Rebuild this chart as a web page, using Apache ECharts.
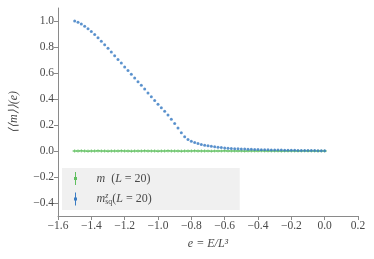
<!DOCTYPE html>
<html><head><meta charset="utf-8">
<script src="https://cdn.jsdelivr.net/npm/echarts@6/dist/echarts.min.js"></script>
<style>html,body{margin:0;padding:0;background:#fff}#c{width:374px;height:259px}</style>
</head><body><div id="c"></div>
<script>
const energies = [-1.50,-1.48,-1.46,-1.44,-1.42,-1.40,-1.38,-1.36,-1.34,-1.32,-1.30,-1.28,-1.26,-1.24,-1.22,-1.20,-1.18,-1.16,-1.14,-1.12,-1.10,-1.08,-1.06,-1.04,-1.02,-1.00,-0.98,-0.96,-0.94,-0.92,-0.90,-0.88,-0.86,-0.84,-0.82,-0.80,-0.78,-0.76,-0.74,-0.72,-0.70,-0.68,-0.66,-0.64,-0.62,-0.60,-0.58,-0.56,-0.54,-0.52,-0.50,-0.48,-0.46,-0.44,-0.42,-0.40,-0.38,-0.36,-0.34,-0.32,-0.30,-0.28,-0.26,-0.24,-0.22,-0.20,-0.18,-0.16,-0.14,-0.12,-0.10,-0.08,-0.06,-0.04,-0.02,0.00];
const mSq = [1.000,0.990,0.977,0.960,0.941,0.920,0.896,0.871,0.845,0.818,0.790,0.762,0.733,0.704,0.676,0.647,0.619,0.590,0.562,0.533,0.505,0.476,0.447,0.417,0.388,0.360,0.332,0.305,0.276,0.245,0.212,0.176,0.140,0.110,0.089,0.075,0.065,0.057,0.050,0.045,0.040,0.036,0.032,0.029,0.026,0.024,0.022,0.020,0.018,0.017,0.016,0.015,0.014,0.013,0.012,0.011,0.010,0.0095,0.009,0.0085,0.008,0.0075,0.007,0.0065,0.006,0.0055,0.005,0.0047,0.0044,0.004,0.0037,0.0034,0.0031,0.0028,0.0025,0.0022];
const mSqErr = [0.003,0.003,0.003,0.003,0.003,0.003,0.003,0.003,0.003,0.003,0.003,0.003,0.003,0.003,0.003,0.003,0.003,0.003,0.003,0.003,0.003,0.003,0.003,0.003,0.003,0.003,0.003,0.003,0.003,0.003,0.003,0.003,0.003,0.003,0.003,0.003,0.003,0.003,0.003,0.003,0.003,0.003,0.003,0.003,0.003,0.003,0.003,0.003,0.003,0.003,0.003,0.003,0.003,0.003,0.003,0.003,0.003,0.003,0.003,0.003,0.003,0.003,0.003,0.003,0.003,0.003,0.003,0.003,0.003,0.003,0.003,0.003,0.003,0.003,0.003,0.003];
const mVal = [0.000,0.000,0.001,0.000,-0.001,0.000,0.000,0.001,0.000,0.000,-0.001,0.000,0.000,0.000,0.001,0.000,0.000,-0.001,0.000,0.000,0.000,0.001,0.000,0.000,0.000,-0.001,0.000,0.000,0.001,0.000,0.000,0.000,-0.001,0.000,0.000,0.000,0.001,0.000,0.000,0.000,0.000,-0.001,0.000,0.000,0.000,0.001,0.000,0.000,0.000,0.000,0.000,-0.001,0.000,0.000,0.000,0.000,0.001,0.000,0.000,0.000,0.000,0.000,-0.001,0.000,0.000,0.000,0.000,0.000,0.000,0.001,0.000,0.000,0.000,0.000,0.000,0.000];
const mErr = [0.013,0.013,0.013,0.013,0.013,0.013,0.013,0.013,0.013,0.013,0.013,0.013,0.013,0.013,0.013,0.013,0.013,0.013,0.013,0.013,0.013,0.013,0.013,0.013,0.013,0.013,0.013,0.013,0.013,0.013,0.013,0.013,0.013,0.013,0.013,0.013,0.013,0.013,0.013,0.013,0.012,0.012,0.012,0.012,0.012,0.012,0.012,0.012,0.012,0.012,0.012,0.012,0.012,0.012,0.012,0.012,0.012,0.012,0.012,0.012,0.012,0.012,0.012,0.012,0.012,0.012,0.012,0.012,0.012,0.012,0.012,0.012,0.012,0.012,0.012,0.012];
const xTicks = [-1.6,-1.4,-1.2,-1.0,-0.8,-0.6,-0.4,-0.2,0.0,0.2];
const yTicks = [-0.4,-0.2,0.0,0.2,0.4,0.6,0.8,1.0];

const GREEN = '#5fbf5f', BLUE = '#3a7cc3', AXIS = '#8a8a8a', TXT = '#4a4a4a';
const FONT = 'Liberation Serif';
const fmt = v => v.toFixed(1).replace('-', '\u2212');

function errData(vals, errs){ return energies.map((e,i)=>[e, vals[i]-errs[i], vals[i]+errs[i]]); }
function errRender(color, op){
  return function(params, api){
    const a = api.coord([api.value(0), api.value(1)]);
    const b = api.coord([api.value(0), api.value(2)]);
    return {type:'line', shape:{x1:a[0],y1:a[1],x2:b[0],y2:b[1]}, style:{stroke:color, lineWidth:1, opacity:op}};
  };
}
const richText = {
  i:{fontFamily:FONT, fontStyle:'italic', fontSize:12, color:TXT, lineHeight:14},
  n:{fontFamily:FONT, fontSize:12, color:TXT, lineHeight:14},
  z:{fontFamily:FONT, fontStyle:'italic', fontSize:8, color:TXT, width:0, verticalAlign:'top', lineHeight:14},
  s:{fontFamily:FONT, fontSize:8, color:TXT, verticalAlign:'bottom', lineHeight:14}
};
const chart = echarts.init(document.getElementById('c'), null, {renderer:'canvas'});
chart.setOption({
  animation:false,
  backgroundColor:'#fff',
  grid:{left:57, right:16, top:8, bottom:43},
  xAxis:{type:'value', min:-1.6, max:0.2, interval:0.2,
    name:'e = E/L³', nameLocation:'middle', nameGap:22,
    nameTextStyle:{fontFamily:FONT, fontStyle:'italic', fontSize:12, color:TXT},
    axisLine:{onZero:false, lineStyle:{color:AXIS, width:1}},
    axisTick:{length:4, lineStyle:{color:AXIS}},
    axisLabel:{fontFamily:FONT, fontSize:11.5, color:TXT, margin:4, formatter:fmt},
    splitLine:{show:false}},
  yAxis:{type:'value', min:-0.5, max:1.1,
    name:'⟨⟨m⟩⟩(e)', nameLocation:'middle', nameGap:38,
    nameTextStyle:{fontFamily:FONT, fontStyle:'italic', fontSize:12, color:TXT},
    axisLine:{show:true, onZero:false, lineStyle:{color:AXIS, width:1}},
    axisTick:{show:true, length:4, lineStyle:{color:AXIS}, customValues:yTicks},
    axisLabel:{fontFamily:FONT, fontSize:11.5, color:TXT, margin:4, formatter:fmt, customValues:yTicks},
    splitLine:{show:false}},
  legend:{orient:'vertical', left:62, top:168, backgroundColor:'#f0f0f0', borderRadius:0,
    padding:[4,88,4,12], itemWidth:8, itemHeight:13, itemGap:7,
    textStyle:{padding:[0,0,0,12], rich:richText},
    formatter: name => name==='m' ? '{i|m}{n|  (}{i|L}{n| = 20)}' : '{i|m}{z|z}{s|sq}{n|(}{i|L}{n| = 20)}',
    data:[
      {name:'m', icon:'path://M3.5,0h1v13h-1z M2.5,5h3v3h-3z', itemStyle:{color:GREEN}},
      {name:'msq', icon:'path://M3.5,0h1v13h-1z M2.5,5h3v3h-3z', itemStyle:{color:BLUE}}
    ]},
  series:[
    {name:'m', type:'custom', renderItem:errRender(GREEN, 0.7), data:errData(mVal, mErr), z:2},
    {name:'m', type:'scatter', symbol:'rect', symbolSize:[4,1.5], itemStyle:{color:GREEN, opacity:0.9}, data:energies.map((e,i)=>[e,mVal[i]]), z:2},
    {name:'msq', type:'custom', renderItem:errRender(BLUE, 0.5), data:errData(mSq, mSqErr), z:3},
    {name:'msq', type:'scatter', symbol:'circle', symbolSize:3, itemStyle:{color:BLUE}, data:energies.map((e,i)=>[e,mSq[i]]), z:3}
  ]
});
</script></body></html>
